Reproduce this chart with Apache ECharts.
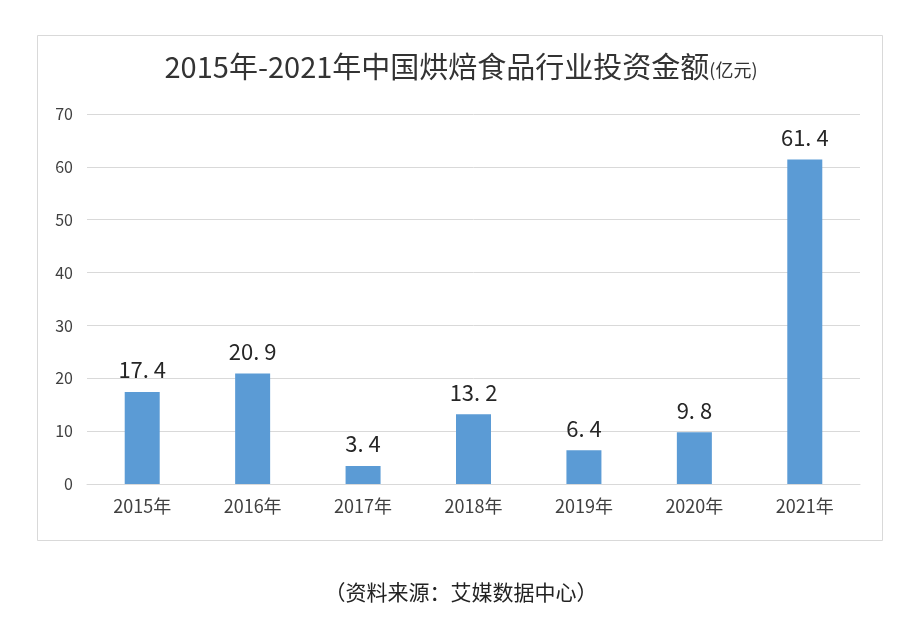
<!DOCTYPE html>
<html>
<head>
    <meta charset="utf-8">
    <title>2015年-2021年中国烘焙食品行业投资金额</title>
    <script src="https://cdn.jsdelivr.net/npm/echarts@6/dist/echarts.min.js"></script>
    <style>
        html, body { margin: 0; padding: 0; background: #fff; }
        #chart { width: 922px; height: 627px; }
    </style>
</head>
<body>
<div id="chart"></div>
<script type="text/javascript">
    // 数据
    var years = ['2015年', '2016年', '2017年', '2018年', '2019年', '2020年', '2021年'];
    var amounts = [17.4, 20.9, 3.4, 13.2, 6.4, 9.8, 61.4];
    var yTicks = { min: 0, max: 70, interval: 10 };

    var cjk = '"Noto Sans CJK SC", "Microsoft YaHei", sans-serif';
    var myChart = echarts.init(document.getElementById('chart'));
    myChart.setOption({
        backgroundColor: '#fff',
        animation: false,
        title: {
            text: '{main|2015年-2021年中国烘焙食品行业投资金额}{unit|(亿元)}',
            left: 'center',
            top: 47,
            textStyle: {
                fontWeight: 'normal',
                rich: {
                    main: { fontSize: 29, color: '#333', fontFamily: cjk, fontWeight: 'normal' },
                    unit: { fontSize: 18, color: '#333', fontFamily: cjk, fontWeight: 'normal', padding: [8, 0, 0, 0] }
                }
            }
        },
        graphic: [
            {
                type: 'rect',
                shape: { x: 37.5, y: 35.5, width: 845, height: 505 },
                style: { fill: null, stroke: '#d9d9d9', lineWidth: 1 },
                z: -1
            },
            {
                type: 'text',
                left: 'center',
                top: 582,
                style: {
                    text: '（资料来源：艾媒数据中心）',
                    fontSize: 21,
                    fill: '#222',
                    fontFamily: cjk
                }
            }
        ],
        grid: {
            left: 87,
            right: 62,
            top: 114,
            bottom: 143
        },
        xAxis: {
            type: 'category',
            data: years,
            axisTick: { show: false },
            axisLine: { lineStyle: { color: '#d9d9d9' } },
            axisLabel: {
                color: '#404040',
                fontSize: 18,
                margin: 13,
                fontFamily: cjk
            }
        },
        yAxis: {
            type: 'value',
            min: yTicks.min,
            max: yTicks.max,
            interval: yTicks.interval,
            axisLine: { show: false },
            axisTick: { show: false },
            axisLabel: {
                color: '#404040',
                fontSize: 16,
                margin: 14,
                fontFamily: cjk
            },
            splitLine: { lineStyle: { color: '#d9d9d9' } }
        },
        series: [{
            name: '投资金额',
            type: 'bar',
            data: amounts,
            barWidth: 35,
            itemStyle: { color: '#5b9bd5' },
            label: {
                show: true,
                position: 'top',
                distance: 11,
                fontSize: 22,
                color: '#262626',
                fontFamily: cjk,
                formatter: function (p) {
                    return String(p.value).replace('.', '. ');
                }
            }
        }]
    });
</script>
</body>
</html>
